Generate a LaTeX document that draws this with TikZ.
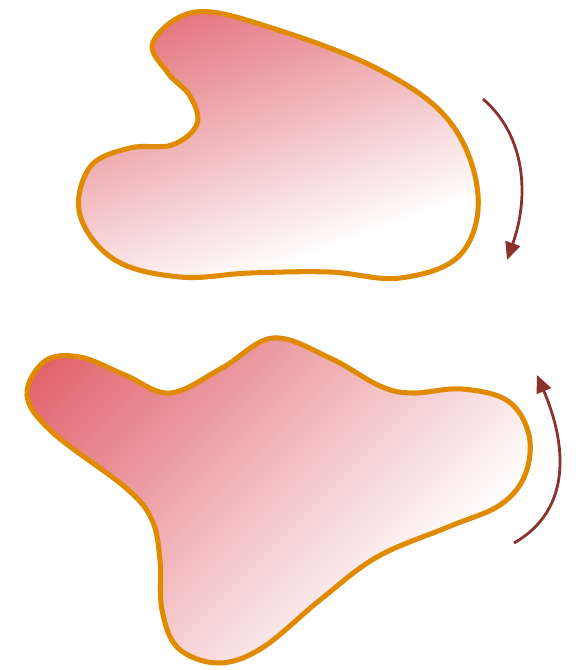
\documentclass[tikz,border=0pt]{standalone}
\usepackage{xcolor}
\usepackage{tikz}
\usetikzlibrary{arrows.meta}
\definecolor{blobred}{RGB}{224,98,108}
\definecolor{blobedge}{RGB}{224,138,0}
\definecolor{turnred}{RGB}{140,50,45}
\pgfdeclareverticalshading{blobshade}{100bp}{color(0bp)=(white); color(31bp)=(white); color(82bp)=(blobred); color(100bp)=(blobred)}

\begin{document}
\begin{tikzpicture}[x=0.03cm, y=-0.03cm,
    blob/.style={line width=4.3pt, draw=blobedge, shade, shading=blobshade, line join=round},
    turnarrow/.style={line width=2.4pt, draw=turnred, -{Triangle[length=15pt, width=13pt]}}]
    \useasboundingbox (0,0) rectangle (575,670);
    \path[blob, shading angle=20] plot[smooth cycle, tension=0.62] coordinates {
      (153,42) (196,12) (272,28) (380,70) (450,122) (478,195) (460,255) (400,278)
      (330,272) (250,273) (180,277) (115,260) (80,215) (90,167) (130,148) (172,145)
      (197,124) (190,96) (168,73)};
    \path[blob, shading angle=45] plot[smooth cycle, tension=0.6] coordinates {
      (27,395) (45,361) (80,357) (125,375) (170,393) (222,368) (273,338) (330,358)
      (380,386) (412,393) (462,389) (508,401) (529,435) (525,475) (500,505) (448,527)
      (377,557) (320,600) (262,648) (218,663) (178,648) (162,610) (160,560) (152,520)
      (126,488) (52,432)};
    \coordinate (topstart) at (483,99);
    \coordinate (topend) at (507,260);
    \coordinate (botstart) at (514,543);
    \coordinate (botend) at (537,375);
    \draw[turnarrow] (topstart) .. controls (525,135) and (530,195) .. (topend);
    \draw[turnarrow] (botstart) .. controls (572,510) and (567,445) .. (botend);
\end{tikzpicture}
\end{document}
